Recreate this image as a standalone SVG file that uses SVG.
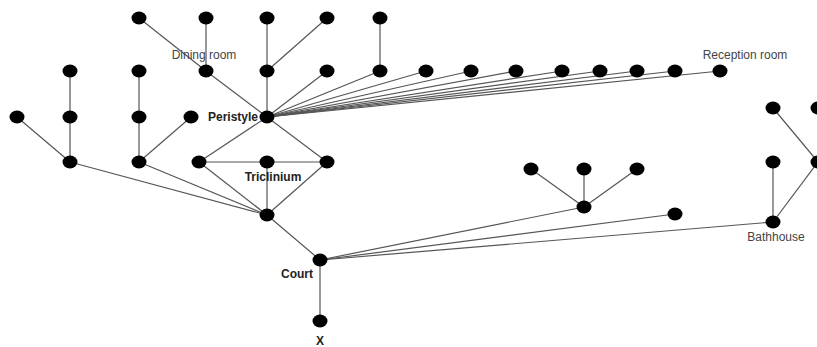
<svg xmlns="http://www.w3.org/2000/svg" width="817" height="347" viewBox="0 0 817 347">
<style>
.n{fill:#000}
.e line{stroke:#555;stroke-width:1.2}
.l{font-family:"Liberation Sans",Arial,sans-serif;font-size:12px;fill:#444}
.b{font-family:"Liberation Sans",Arial,sans-serif;font-size:12px;font-weight:bold;fill:#222}
</style>
<defs><ellipse id="d" rx="7.5" ry="6.5"/></defs>
<rect width="817" height="347" fill="#fff"/>
<g class="e">
<line x1="139" y1="18" x2="206" y2="71"/>
<line x1="206" y1="18" x2="206" y2="71"/>
<line x1="267" y1="18" x2="267" y2="71"/>
<line x1="327" y1="18" x2="267" y2="71"/>
<line x1="380" y1="18" x2="380" y2="71"/>
<line x1="206" y1="71" x2="267" y2="117"/>
<line x1="267" y1="71" x2="267" y2="117"/>
<line x1="327" y1="71" x2="267" y2="117"/>
<line x1="380" y1="71" x2="267" y2="117"/>
<line x1="426" y1="71" x2="267" y2="117"/>
<line x1="471" y1="71" x2="267" y2="117"/>
<line x1="516" y1="71" x2="267" y2="117"/>
<line x1="562" y1="71" x2="267" y2="117"/>
<line x1="600" y1="71" x2="267" y2="117"/>
<line x1="637" y1="71" x2="267" y2="117"/>
<line x1="675" y1="71" x2="267" y2="117"/>
<line x1="720" y1="71" x2="267" y2="117"/>
<line x1="267" y1="117" x2="199" y2="162"/>
<line x1="267" y1="117" x2="327" y2="162"/>
<line x1="199" y1="162" x2="267" y2="162"/>
<line x1="267" y1="162" x2="327" y2="162"/>
<line x1="199" y1="162" x2="267" y2="215"/>
<line x1="267" y1="162" x2="267" y2="215"/>
<line x1="327" y1="162" x2="267" y2="215"/>
<line x1="70" y1="71" x2="70" y2="117"/>
<line x1="70" y1="117" x2="70" y2="162"/>
<line x1="17" y1="117" x2="70" y2="162"/>
<line x1="139" y1="71" x2="139" y2="117"/>
<line x1="139" y1="117" x2="139" y2="162"/>
<line x1="191" y1="117" x2="139" y2="162"/>
<line x1="70" y1="162" x2="267" y2="215"/>
<line x1="139" y1="162" x2="267" y2="215"/>
<line x1="267" y1="215" x2="320" y2="260"/>
<line x1="320" y1="260" x2="320" y2="321"/>
<line x1="320" y1="260" x2="584" y2="207"/>
<line x1="320" y1="260" x2="675" y2="214"/>
<line x1="320" y1="260" x2="773" y2="222"/>
<line x1="531" y1="169" x2="584" y2="207"/>
<line x1="584" y1="169" x2="584" y2="207"/>
<line x1="637" y1="169" x2="584" y2="207"/>
<line x1="773" y1="162" x2="773" y2="222"/>
<line x1="818" y1="162" x2="773" y2="222"/>
<line x1="773" y1="108" x2="818" y2="162"/>
</g>
<g id="n1"><use href="#d" x="139" y="18"/></g>
<g id="n2"><use href="#d" x="206" y="18"/></g>
<g id="n3"><use href="#d" x="267" y="18"/></g>
<g id="n4"><use href="#d" x="327" y="18"/></g>
<g id="n5"><use href="#d" x="380" y="18"/></g>
<g id="n6"><use href="#d" x="70" y="71"/></g>
<g id="n7"><use href="#d" x="139" y="71"/></g>
<g id="dining"><use href="#d" x="206" y="71"/><text class="l" x="204" y="59" text-anchor="middle">Dining room</text></g>
<g id="n9"><use href="#d" x="267" y="71"/></g>
<g id="n10"><use href="#d" x="327" y="71"/></g>
<g id="n11"><use href="#d" x="380" y="71"/></g>
<g id="n12"><use href="#d" x="426" y="71"/></g>
<g id="n13"><use href="#d" x="471" y="71"/></g>
<g id="n14"><use href="#d" x="516" y="71"/></g>
<g id="n15"><use href="#d" x="562" y="71"/></g>
<g id="n16"><use href="#d" x="600" y="71"/></g>
<g id="n17"><use href="#d" x="637" y="71"/></g>
<g id="n18"><use href="#d" x="675" y="71"/></g>
<g id="reception"><use href="#d" x="720" y="71"/><text class="l" x="745" y="59" text-anchor="middle">Reception room</text></g>
<g id="n20"><use href="#d" x="17" y="117"/></g>
<g id="n21"><use href="#d" x="70" y="117"/></g>
<g id="n22"><use href="#d" x="139" y="117"/></g>
<g id="n23"><use href="#d" x="191" y="117"/></g>
<g id="peristyle"><use href="#d" x="267" y="117"/><text class="b" x="258" y="121" text-anchor="end">Peristyle</text></g>
<g id="n25"><use href="#d" x="70" y="162"/></g>
<g id="n26"><use href="#d" x="139" y="162"/></g>
<g id="n27"><use href="#d" x="199" y="162"/></g>
<g id="triclinium"><use href="#d" x="267" y="162"/><text class="b" x="273" y="181" text-anchor="middle">Triclinium</text></g>
<g id="n29"><use href="#d" x="327" y="162"/></g>
<g id="n30"><use href="#d" x="267" y="215"/></g>
<g id="court"><use href="#d" x="320" y="260"/><text class="b" x="313" y="278" text-anchor="end">Court</text></g>
<g id="x"><use href="#d" x="320" y="321"/><text class="b" x="320" y="345" text-anchor="middle">X</text></g>
<g id="n33"><use href="#d" x="531" y="169"/></g>
<g id="n34"><use href="#d" x="584" y="169"/></g>
<g id="n35"><use href="#d" x="637" y="169"/></g>
<g id="n36"><use href="#d" x="584" y="207"/></g>
<g id="n37"><use href="#d" x="675" y="214"/></g>
<g id="n38"><use href="#d" x="773" y="108"/></g>
<g id="n39"><use href="#d" x="818" y="108"/></g>
<g id="n40"><use href="#d" x="773" y="162"/></g>
<g id="n41"><use href="#d" x="818" y="162"/></g>
<g id="bathhouse"><use href="#d" x="773" y="222"/><text class="l" x="776" y="241" text-anchor="middle">Bathhouse</text></g>
</svg>
